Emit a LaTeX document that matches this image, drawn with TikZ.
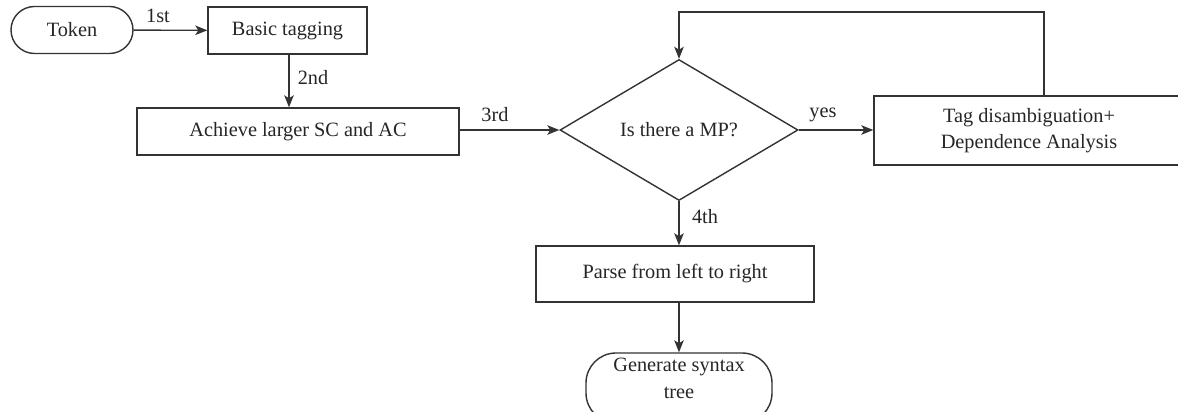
\documentclass[tikz,border=0pt]{standalone}
\usepackage{fontspec}
\setmainfont{Liberation Serif}
\usetikzlibrary{shapes.geometric,arrows.meta}
\definecolor{ln}{HTML}{333333}
\begin{document}
\begin{tikzpicture}[x=1pt,y=1pt,
  every node/.style={font=\fontsize{20.3}{26.5}\selectfont, text=black!85},
  boxnode/.style={draw=ln, line width=1.4pt, rectangle, inner sep=0pt, align=center},
  termnode/.style={draw=ln, line width=1.4pt, rectangle, inner sep=0pt, align=center},
  decnode/.style={draw=ln, line width=1.4pt, diamond, aspect=1.69, inner sep=0pt, minimum width=238pt, minimum height=141pt},
  arr/.style={draw=ln, line width=1.4pt, -{Stealth[length=12pt,width=9.5pt,inset=3pt]}},
  lbl/.style={inner sep=0pt}
]
\clip (0,0) rectangle (1178,412);
\fill[white] (0,0) rectangle (1178,412);
\node[termnode, rounded corners=23.5pt, minimum width=122pt, minimum height=47pt] (token) at (72,382) {Token};
\node[boxnode, minimum width=159pt, minimum height=47pt] (basic) at (287.5,381.5) {Basic tagging};
\node[boxnode, minimum width=322pt, minimum height=47pt] (achieve) at (298,280.5) {Achieve larger SC and AC};
\node[decnode] (dec) at (679,282) {Is there a MP?};
\node[boxnode, minimum width=310pt, minimum height=69pt] (tag) at (1029,281.5) {Tag disambiguation+\\Dependence Analysis};
\node[boxnode, minimum width=278pt, minimum height=56pt] (parse) at (675,138) {Parse from left to right};
\node[termnode, rounded corners=30pt, minimum width=186pt, minimum height=70pt, text depth=19pt] (gen) at (679,24) {Generate syntax\\tree};
\coordinate (loopa) at (1044,400);
\coordinate (loopb) at (679,400);

\draw[arr] (token) -- (basic);
\draw[arr] (basic.south -| 289,0) -- (achieve.north -| 289,0);
\draw[arr] (achieve.east |- dec.west) -- (dec.west);
\draw[arr] (dec.east) -- (tag.west |- dec.east);
\draw[arr] (tag.north -| loopa) -- (loopa) -- (loopb) -- (dec.north);
\draw[arr] (dec.south) -- (dec.south |- parse.north);
\draw[arr] (dec.south |- parse.south) -- (gen.north);

\node[lbl] (l1) at (158,396) {1st};
\node[lbl] (l2) at (313,334) {2nd};
\node[lbl] (l3) at (495,297) {3rd};
\node[lbl] (l4) at (823,297) {yes};
\node[lbl] (l5) at (705,195) {4th};
\end{tikzpicture}
\end{document}
